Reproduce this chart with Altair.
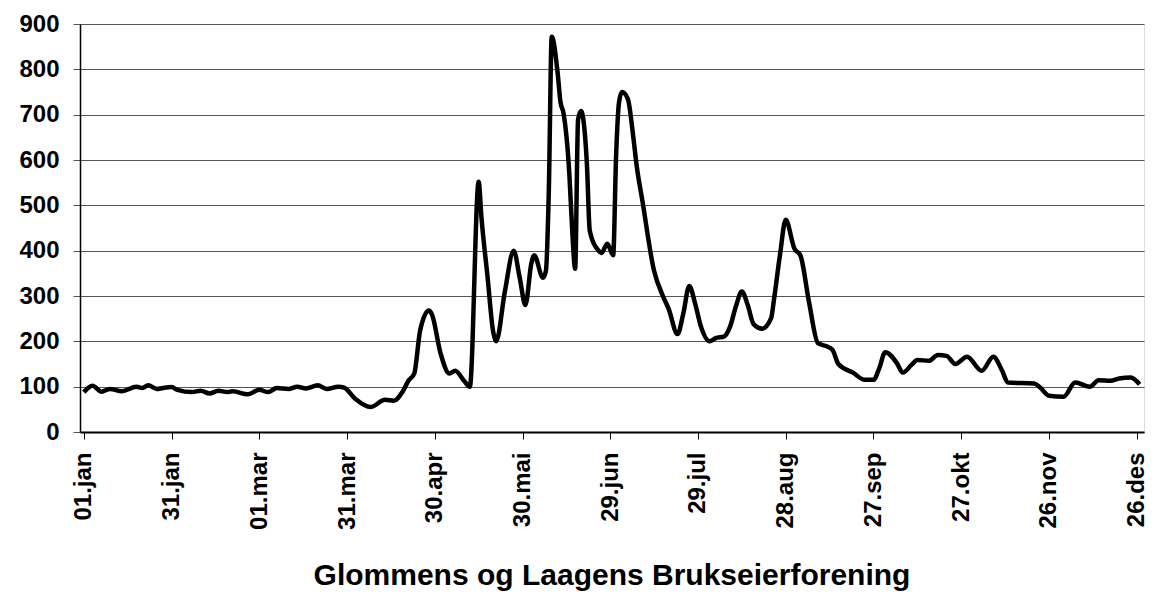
import altair as alt
import pandas as pd

# Day of year (0 = 01.jan) and daily discharge
days = [0, 3, 6, 9, 13, 18, 20, 22, 25, 27, 30, 32, 37, 40, 43, 46, 49, 51, 56, 60,
        63, 66, 70, 73, 76, 80, 83, 87, 89, 93, 98, 103, 106, 109, 111, 113, 115, 118, 119, 122,
        125, 127, 130, 132, 135, 136, 138, 140, 141, 144, 147, 149, 151, 153, 154, 157, 158, 159, 160, 162,
        163, 164, 166, 167, 168, 169, 170, 172, 173, 176, 177, 179, 181, 182, 183, 184, 186, 188, 189, 191,
        195, 198, 200, 203, 205, 207, 209, 211, 214, 216, 219, 221, 223, 225, 227, 229, 232, 235, 236, 238,
        240, 243, 245, 248, 251, 254, 256, 258, 263, 267, 270, 272, 274, 278, 280, 283, 285, 289, 292, 295,
        298, 302, 307, 311, 314, 316, 325, 327, 330, 335, 339, 344, 347, 351, 354, 358, 361]
flow = [88, 102, 89, 95, 90, 100, 97, 103, 95, 97, 99, 93, 88, 91, 85, 91, 88, 90, 83, 93,
        88, 97, 95, 100, 96, 103, 95, 100, 98, 72, 55, 71, 69, 89, 113, 129, 224, 268, 260, 173,
        129, 135, 113, 100, 552, 470, 345, 220, 200, 311, 400, 342, 280, 371, 390, 340, 355, 533, 872, 793,
        727, 704, 571, 444, 360, 689, 708, 593, 444, 400, 395, 415, 390, 609, 727, 750, 735, 644, 589, 510,
        355, 300, 271, 216, 262, 322, 284, 233, 200, 207, 211, 233, 278, 310, 280, 238, 228, 251, 293, 389,
        468, 404, 390, 285, 196, 189, 181, 150, 131, 115, 115, 141, 176, 152, 131, 148, 159, 157, 170, 168,
        150, 166, 135, 166, 135, 109, 107, 98, 80, 78, 109, 100, 114, 113, 118, 120, 105]

tick_days = [0, 30, 60, 90, 120, 150, 180, 210, 240, 270, 300, 330, 360]
tick_labels = ["01.jan", "31.jan", "01.mar", "31.mar", "30.apr", "30.mai", "29.jun",
               "29.jul", "28.aug", "27.sep", "27.okt", "26.nov", "26.des"]
y_ticks = [0, 100, 200, 300, 400, 500, 600, 700, 800, 900]
title_text = "Glommens og Laagens Brukseierforening"

df = pd.DataFrame({"day": days, "flow": flow})
label_expr = "[" + ",".join(f"'{s}'" for s in tick_labels) + "][round(datum.value/30)]"

FONT = "Liberation Sans"

chart = alt.Chart(df).mark_line(
    color="black", strokeWidth=4.5, interpolate="monotone"
).encode(
    x=alt.X("day:Q",
            scale=alt.Scale(domain=[-1.3, 362.5], nice=False, zero=False),
            axis=alt.Axis(values=tick_days, labelExpr=label_expr, labelAngle=-90,
                          grid=False, title=None, labelFont=FONT, labelFontSize=24,
                          labelFontWeight="bold", labelColor="black", tickColor="black",
                          tickSize=7, tickWidth=1, domainColor="black", domainWidth=2,
                          labelPadding=13, labelOverlap=False)),
    y=alt.Y("flow:Q",
            scale=alt.Scale(domain=[0, 900], nice=False),
            axis=alt.Axis(values=y_ticks, title=None, grid=True, gridColor="#555",
                          gridWidth=1.1, labelFont=FONT, labelFontSize=24,
                          labelFontWeight="bold", labelColor="black", tickColor="#555",
                          tickSize=7, domainColor="black", domainWidth=1.5,
                          labelPadding=14)),
).properties(
    width=1064,
    height=408,
    padding={"left": 72, "top": 16, "right": 8, "bottom": 159},
    autosize=alt.AutoSizeParams(type="none"),
    title=alt.TitleParams(title_text, orient="bottom", anchor="middle", font=FONT,
                          fontSize=30, fontWeight="bold", color="black",
                          baseline="alphabetic", offset=56),
).configure_view(stroke="#666", strokeWidth=1).configure(background="white")

chart.save("out.html", embed_options={"renderer": "svg", "actions": False})
